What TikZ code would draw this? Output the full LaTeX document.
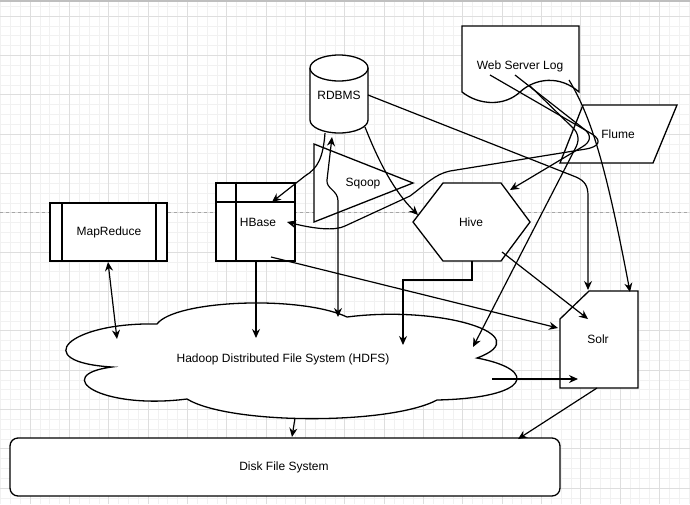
\documentclass[tikz,border=0pt]{standalone}
\usepackage{fontspec}
\setmainfont{Liberation Sans}
\usepackage{tikz}
\usetikzlibrary{arrows.meta,positioning,calc}
\definecolor{gridminor}{HTML}{F1F1F1}
\definecolor{gridmajor}{HTML}{DEDEDE}
\tikzset{
  box/.style={draw,fill=white,line width=1.3pt,line join=miter},
  link/.style={-{Stealth[length=9pt,width=8pt]},line width=1.2pt},
  twolink/.style={{Stealth[length=9pt,width=8pt]}-{Stealth[length=9pt,width=8pt]},line width=1.2pt},
  lbl/.style={font=\fontsize{12}{14}\selectfont,inner sep=0pt}
}

\begin{document}
\begin{tikzpicture}[x=1pt,y=-1pt]
\useasboundingbox (0,0) rectangle (690,504);

% background grid
\foreach \i in {0,...,70} \draw[gridminor,line width=0.6pt] ({0.5+9.833*\i},0) -- ({0.5+9.833*\i},504);
\foreach \j in {0,...,51} \draw[gridminor,line width=0.6pt] (0,{6.17+9.833*\j}) -- (690,{6.17+9.833*\j});
\foreach \i in {0,...,18} \draw[gridmajor,line width=0.8pt] ({-9.33+39.33*\i},0) -- ({-9.33+39.33*\i},504);
\foreach \j in {0,...,12} \draw[gridmajor,line width=0.8pt] (0,{16+39.33*\j}) -- (690,{16+39.33*\j});
\draw[gray!70,dash pattern=on 3pt off 3pt] (0,212) -- (690,212);
\draw[gray!50,line width=2pt] (0,1) -- (690,1);

% shapes
\draw[box] (50,203) rectangle (167,261);
\draw[line width=1.3pt] (62,203) -- (62,261) (156,203) -- (156,261);

\draw[box] (216,183) rectangle (295,261);
\draw[line width=1.3pt] (236,183) -- (236,261) (216,202) -- (295,202);

\draw[box] (310,68) -- (310,120) arc[start angle=180,end angle=360,x radius=29pt,y radius=13pt] -- (368,68);
\draw[box] (339,68) ellipse[x radius=29pt,y radius=13pt];

\draw[box] (314,144) -- (413,183) -- (314,222) -- cycle;

\draw[box] (443,183) -- (501,183) -- (530,222) -- (501,261) -- (443,261) -- (413,222) -- cycle;

\draw[box] (462,26) -- (579,26) -- (579,92)
  .. controls (560,75) and (535,78) .. (520,92)
  .. controls (505,106) and (480,106) .. (462,92) -- cycle;

\draw[box] (583,105) -- (677,105) -- (653,163) -- (560,163) -- cycle;

\draw[box] (589,291) -- (638,291) -- (638,388) -- (560,388) -- (560,319) -- cycle;

\draw[box] (112,367) .. controls (28,362) and (68,322) .. (157,324)
  .. controls (175,300) and (300,295) .. (347,317)
  .. controls (440,305) and (540,335) .. (477,358)
  .. controls (540,370) and (530,398) .. (437,400)
  .. controls (390,425) and (230,425) .. (187,399)
  .. controls (100,410) and (50,375) .. (112,367) -- cycle;

\draw[box,rounded corners=8pt] (10,438) rectangle (560,496);

% end points
\coordinate (mrS) at (108,262);
\coordinate (hdfsMR) at (117,339);
\coordinate (hbaseS) at (256,261);
\coordinate (hdfsHB) at (256,338);
\coordinate (rdbmsS) at (332,137);
\coordinate (hdfsRD) at (338,317);
\coordinate (rdbmsSW) at (325,133);
\coordinate (hbaseN) at (272,202);
\coordinate (rdbmsSE) at (365,127);
\coordinate (hiveW) at (418,215);
\coordinate (rdbmsE) at (368,95);
\coordinate (solrN) at (588,290);
\coordinate (solrNE) at (630,292);
\coordinate (wslA) at (490,75);
\coordinate (wslB) at (515,75);
\coordinate (wslC) at (530,86);
\coordinate (wslD) at (569,80);
\coordinate (hbaseE) at (287,222);
\coordinate (hiveN) at (510,190);
\coordinate (hdfsWS) at (473,347);
\coordinate (hiveS) at (472,261);
\coordinate (hdfsHV) at (403,345);
\coordinate (hiveSE) at (502,252);
\coordinate (solrC) at (588,319);
\coordinate (hbaseC) at (271,257);
\coordinate (solrW) at (558,328);
\coordinate (hdfsE) at (492,379);
\coordinate (solrIn) at (578,379);
\coordinate (solrS) at (597,388);
\coordinate (diskNE) at (518,439);
\coordinate (hdfsS) at (295,418);
\coordinate (diskN) at (292,437);

% connectors
\draw[twolink] (mrS) -- (hdfsMR);
\draw[link] (hbaseS) -- (hdfsHB);
\draw[twolink] (rdbmsS) -- (327,180) .. controls (326,189) and (338,190) .. (338,201) -- (hdfsRD);
\draw[link] (rdbmsSW) .. controls (323,158) and (318,168) .. (305,176) -- (hbaseN);
\draw[link] (rdbmsSE) .. controls (380,165) and (395,192) .. (hiveW);
\draw[link] (rdbmsE) -- (576,177) .. controls (585,181) and (588,186) .. (588,196) -- (solrN);
\draw[link] (wslA) -- (592,134) .. controls (603,141) and (598,147) .. (586,149) -- (450,171)
  .. controls (435,174) and (425,185) .. (410,196) -- (345,226) .. controls (335,231) and (315,229) .. (hbaseE);
\draw[link] (wslB) -- (584,129) .. controls (592,135) and (591,142) .. (582,147) -- (hiveN);
\draw[link] (wslC) -- (572,127) .. controls (580,134) and (579,142) .. (575,149) -- (hdfsWS);
\draw[link] (wslD) .. controls (590,115) and (605,160) .. (solrNE);
\draw[link] (hiveS) -- (472,280) -- (403,280) -- (hdfsHV);
\draw[link] (hiveSE) -- (solrC);
\draw[link] (hbaseC) -- (solrW);
\draw[link] (hdfsE) -- (solrIn);
\draw[link] (solrS) -- (diskNE);
\draw[link] (hdfsS) -- (diskN);

% labels
\node[lbl] (mapreduce) at (109,232) {MapReduce};
\node[lbl] (hbase) at (258,222) {HBase};
\node[lbl] (rdbms) at (339,95) {RDBMS};
\node[lbl] (sqoop) at (363,184) {Sqoop};
\node[lbl] (hive) at (471,222) {Hive};
\node[lbl] (wsl) at (520,66) {Web Server Log};
\node[lbl] (flume) at (618,134) {Flume};
\node[lbl] (solr) at (598,339) {Solr};
\node[lbl] (hdfs) at (283,359) {Hadoop Distributed File System (HDFS)};
\node[lbl] (disk) at (284,467) {Disk File System};
\end{tikzpicture}
\end{document}
